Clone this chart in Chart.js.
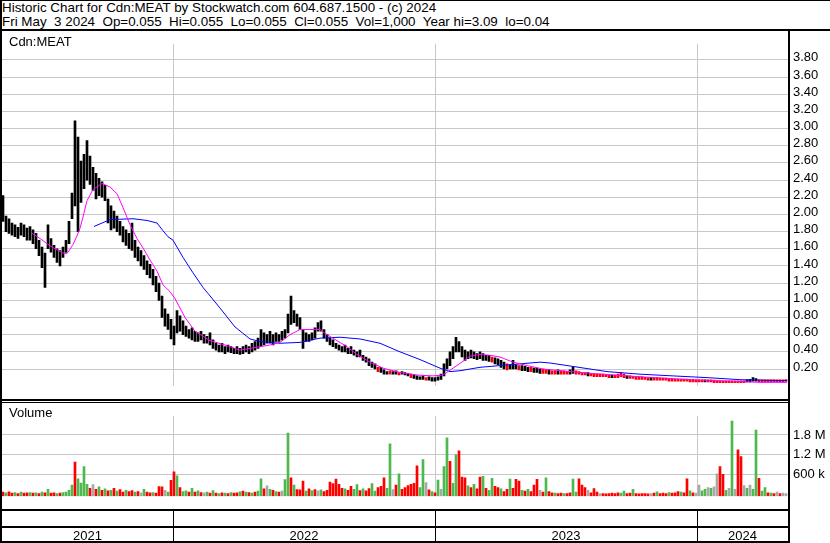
<!DOCTYPE html>
<html>
<head>
<meta charset="utf-8">
<script src="https://cdn.jsdelivr.net/npm/chart.js@4.4.0/dist/chart.umd.min.js"></script>
<style>
body { margin: 0; background: #fff; }
#wrap { position: relative; width: 830px; height: 543px; overflow: hidden; font-family: "Liberation Sans", Arial, sans-serif; color: #000; }
.t { position: absolute; white-space: pre; font-size: 13px; line-height: 15px; }
.h { position: absolute; white-space: pre; font-size: 13.4px; line-height: 15px; }
.ln { position: absolute; background: #000; }
canvas { position: absolute; left: 0; }
</style>
</head>
<body>
<div id="wrap">
<canvas id="priceChart" width="830" height="368" style="top:31px"></canvas>
<canvas id="volumeChart" width="830" height="106" style="top:403px"></canvas>
<div class="h" style="left:2px;top:0px">Historic Chart for Cdn:MEAT by Stockwatch.com 604.687.1500 - (c) 2024</div>
<div class="h" style="left:2px;top:14px">Fri May  3 2024  Op=0.055  Hi=0.055  Lo=0.055  Cl=0.055  Vol=1,000  Year hi=3.09  lo=0.04</div>
<div class="t" style="left:9px;top:34px">Cdn:MEAT</div>
<div class="t" style="left:9px;top:405px">Volume</div>
</div>
<script>
// one sample every 3 trading days, oldest first
var sampleStep = 3;

var priceHigh = [
    2.22, 1.98, 1.95, 1.90, 1.88, 1.85, 1.90, 1.88, 1.84, 1.86,
    1.82, 1.78, 1.70, 1.62, 1.55, 1.88, 1.72, 1.64, 1.60, 1.58,
    1.62, 1.70, 1.92, 2.25, 3.09, 2.90, 2.62, 2.70, 2.86, 2.68,
    2.55, 2.48, 2.42, 2.38, 2.34, 2.18, 2.10, 2.04, 1.98, 1.92,
    1.86, 1.82, 1.78, 1.90, 1.70, 1.62, 1.58, 1.52, 1.46, 1.42,
    1.36, 1.28, 1.20, 1.05, 0.90, 0.84, 0.78, 0.70, 0.88, 0.82,
    0.76, 0.70, 0.66, 0.68, 0.64, 0.62, 0.64, 0.60, 0.58, 0.62,
    0.54, 0.50, 0.48, 0.50, 0.46, 0.48, 0.46, 0.44, 0.46, 0.44,
    0.46, 0.48, 0.46, 0.50, 0.52, 0.56, 0.66, 0.62, 0.60, 0.64,
    0.60, 0.62, 0.60, 0.64, 0.66, 0.84, 1.05, 0.88, 0.84, 0.80,
    0.66, 0.62, 0.60, 0.62, 0.68, 0.74, 0.76, 0.66, 0.60, 0.56,
    0.54, 0.50, 0.48, 0.46, 0.48, 0.44, 0.46, 0.42, 0.40, 0.42,
    0.36, 0.34, 0.32, 0.28, 0.26, 0.22, 0.22, 0.19, 0.17, 0.18,
    0.17, 0.18, 0.16, 0.17, 0.16, 0.15, 0.14, 0.13, 0.12, 0.11,
    0.12, 0.10, 0.11, 0.10, 0.10, 0.11, 0.14, 0.26, 0.32, 0.40,
    0.46, 0.57, 0.52, 0.46, 0.42, 0.40, 0.42, 0.40, 0.38, 0.40,
    0.38, 0.36, 0.36, 0.34, 0.33, 0.32, 0.30, 0.28, 0.26, 0.25,
    0.30, 0.25, 0.24, 0.24, 0.23, 0.22, 0.22, 0.21, 0.21, 0.20,
    0.20, 0.19, 0.19, 0.18, 0.18, 0.19, 0.18, 0.18, 0.17, 0.19,
    0.22, 0.18, 0.17, 0.16, 0.16, 0.16, 0.15, 0.14, 0.14, 0.14,
    0.14, 0.13, 0.13, 0.13, 0.13, 0.14, 0.16, 0.14, 0.12, 0.12,
    0.11, 0.11, 0.11, 0.11, 0.10, 0.10, 0.10, 0.10, 0.10, 0.09,
    0.09, 0.09, 0.09, 0.09, 0.08, 0.08, 0.08, 0.08, 0.08, 0.08,
    0.08, 0.07, 0.07, 0.07, 0.07, 0.07, 0.07, 0.07, 0.06, 0.06,
    0.06, 0.06, 0.06, 0.06, 0.06, 0.06, 0.06, 0.06, 0.07, 0.08,
    0.10, 0.09, 0.07, 0.07, 0.06, 0.06, 0.06, 0.06, 0.06, 0.06,
    0.06, 0.055
];
var priceLow = [
    1.92, 1.80, 1.78, 1.76, 1.74, 1.72, 1.76, 1.74, 1.70, 1.70,
    1.66, 1.60, 1.52, 1.38, 1.15, 1.60, 1.56, 1.50, 1.44, 1.40,
    1.50, 1.55, 1.66, 1.95, 2.10, 1.80, 2.14, 2.30, 2.40, 2.35,
    2.28, 2.18, 2.22, 2.20, 2.16, 1.90, 1.82, 1.84, 1.80, 1.76,
    1.68, 1.64, 1.60, 1.58, 1.50, 1.46, 1.40, 1.36, 1.30, 1.26,
    1.18, 1.10, 1.00, 0.80, 0.70, 0.66, 0.55, 0.48, 0.62, 0.64,
    0.60, 0.58, 0.56, 0.54, 0.52, 0.52, 0.54, 0.50, 0.50, 0.48,
    0.44, 0.42, 0.40, 0.40, 0.38, 0.40, 0.39, 0.38, 0.38, 0.37,
    0.38, 0.40, 0.38, 0.40, 0.42, 0.44, 0.46, 0.48, 0.50, 0.50,
    0.48, 0.52, 0.52, 0.54, 0.56, 0.62, 0.72, 0.74, 0.70, 0.66,
    0.44, 0.52, 0.52, 0.54, 0.56, 0.64, 0.64, 0.56, 0.52, 0.48,
    0.46, 0.44, 0.42, 0.40, 0.40, 0.38, 0.38, 0.36, 0.34, 0.34,
    0.30, 0.28, 0.24, 0.22, 0.20, 0.17, 0.16, 0.14, 0.14, 0.14,
    0.14, 0.14, 0.13, 0.14, 0.13, 0.12, 0.10, 0.09, 0.08, 0.08,
    0.08, 0.07, 0.07, 0.06, 0.06, 0.07, 0.08, 0.12, 0.20, 0.24,
    0.32, 0.40, 0.40, 0.34, 0.30, 0.32, 0.33, 0.32, 0.31, 0.32,
    0.30, 0.30, 0.29, 0.28, 0.26, 0.25, 0.22, 0.20, 0.19, 0.20,
    0.20, 0.20, 0.19, 0.18, 0.18, 0.17, 0.17, 0.16, 0.16, 0.15,
    0.15, 0.15, 0.14, 0.14, 0.14, 0.14, 0.14, 0.14, 0.14, 0.14,
    0.15, 0.14, 0.14, 0.13, 0.13, 0.12, 0.12, 0.11, 0.11, 0.11,
    0.11, 0.11, 0.10, 0.10, 0.10, 0.10, 0.11, 0.10, 0.09, 0.09,
    0.09, 0.08, 0.08, 0.08, 0.08, 0.07, 0.07, 0.07, 0.07, 0.07,
    0.07, 0.07, 0.06, 0.06, 0.06, 0.06, 0.06, 0.06, 0.06, 0.05,
    0.05, 0.05, 0.05, 0.05, 0.05, 0.05, 0.05, 0.04, 0.04, 0.04,
    0.04, 0.04, 0.04, 0.04, 0.04, 0.04, 0.04, 0.04, 0.05, 0.05,
    0.06, 0.06, 0.05, 0.05, 0.05, 0.05, 0.05, 0.05, 0.05, 0.05,
    0.05, 0.055
];
// k = black bar, r = red bar
var priceTone =
    'kkkkkkkkkk' + 'kkkkkkkkkk' + 'kkkkkkkkkk' + 'kkkkkkkkkk' + 'kkkkkkkkkk' +
    'kkkkkkkkkk' + 'kkkkkkkkkk' + 'kkkkkkkkkk' + 'kkkkkkkkkk' + 'kkkkkkkkkk' +
    'kkkkkkkkkk' + 'kkkkkkkkkk' + 'kkkkkrkkkr' + 'kkrkkkrkkk' + 'krkkkkkkkk' +
    'kkkkkkkkkk' + 'kkkrkkkkrk' + 'kkrkkkrkkk' + 'rrkrrkrrrk' + 'krrrrkrrrr' +
    'rrrkrrrrkr' + 'rrrrrrkrrr' + 'rrrrrrrrrr' + 'rrrrkrrrrr' + 'rrrrrrrrkk' +
    'kkrrrrrrrr' + 'rr';

var fastDays = [30, 38, 45, 53, 61, 66, 71, 75, 78, 81, 85, 91, 100, 108, 115, 121, 128, 135, 141, 148,
    155, 161, 168, 173, 183, 193, 208, 223, 238, 253, 268, 278, 288, 298, 308, 318, 325, 335, 345, 355,
    368, 381, 398, 415, 431, 441, 451, 461, 468, 478, 488, 498, 511, 525, 541, 558, 588, 638, 688, 738,
    758, 785];
var fastMA = [1.78, 1.72, 1.66, 1.60, 1.55, 1.56, 1.65, 1.75, 1.84, 1.97, 2.16, 2.29, 2.36, 2.32, 2.24, 2.08, 1.88, 1.72, 1.61, 1.47,
    1.34, 1.18, 1.10, 1.02, 0.80, 0.64, 0.53, 0.48, 0.42, 0.45, 0.48, 0.51, 0.60, 0.66, 0.66, 0.66, 0.60, 0.53, 0.46, 0.37,
    0.28, 0.21, 0.16, 0.13, 0.12, 0.13, 0.21, 0.29, 0.35, 0.37, 0.36, 0.34, 0.28, 0.24, 0.20, 0.18, 0.15, 0.11, 0.076, 0.054,
    0.045, 0.045];

var slowDays = [92, 108, 131, 145, 155, 161, 166, 171, 181, 191, 201, 206, 218, 233, 248, 258, 278, 298, 318, 338,
    358, 378, 398, 418, 438, 448, 458, 478, 498, 518, 538, 548, 571, 605, 638, 671, 705, 738, 785];
var slowMA = [1.86, 1.94, 1.95, 1.93, 1.90, 1.81, 1.74, 1.70, 1.50, 1.32, 1.15, 1.08, 0.91, 0.69, 0.55, 0.52, 0.50, 0.51, 0.56, 0.57,
    0.55, 0.50, 0.40, 0.31, 0.21, 0.17, 0.18, 0.22, 0.24, 0.26, 0.28, 0.27, 0.23, 0.17, 0.14, 0.12, 0.10, 0.076, 0.065];

// volume in thousands of shares
var volume = [
    60, 40, 70, 30, 50, 20, 60, 30, 40, 50,
    30, 40, 20, 60, 40, 150, 30, 40, 20, 30,
    50, 60, 120, 280, 975, 470, 340, 840, 300, 180,
    290, 150, 220, 120, 160, 100, 120, 180, 90, 140,
    60, 120, 80, 110, 60, 80, 40, 150, 60, 40,
    50, 30, 230, 220, 120, 60, 420, 680, 560, 200,
    80, 100, 60, 180, 60, 100, 50, 40, 60, 30,
    110, 30, 20, 40, 30, 20, 50, 30, 40, 70,
    90, 60, 50, 30, 60, 90, 470, 160, 250, 150,
    120, 80, 60, 90, 440, 1860, 500, 280, 140, 130,
    400, 90, 160, 110, 140, 100, 130, 80, 120, 370,
    320, 460, 300, 180, 160, 120, 240, 150, 290, 110,
    160, 100, 170, 320, 90, 200, 240, 500, 180, 1530,
    140, 280, 620, 150, 200, 260, 300, 330, 860, 200,
    1050, 350, 130, 80, 40, 430, 150, 840, 1710, 1000,
    330, 1200, 1320, 520, 500, 250, 200, 300, 160, 520,
    540, 180, 120, 480, 240, 200, 160, 80, 150, 460,
    180, 450, 400, 120, 90, 150, 80, 280, 450, 120,
    60, 500, 80, 40, 30, 20, 30, 20, 20, 40,
    460, 60, 470, 280, 200, 120, 40, 170, 60, 20,
    20, 10, 20, 30, 20, 40, 30, 90, 20, 30,
    150, 20, 10, 20, 20, 10, 20, 30, 70, 20,
    30, 20, 50, 30, 40, 80, 60, 40, 470, 100,
    40, 30, 280, 100, 150, 200, 180, 220, 620, 840,
    600, 120, 180, 2220, 150, 1350, 1140, 260, 180, 280,
    150, 1950, 480, 90, 200, 40, 30, 20, 60, 20,
    30, 20
];
// r = down day, g = up day, x = unchanged
var volumeTone =
    'rgrrgrgrrg' + 'rgrgrgrrgr' + 'ggggrggggr' + 'xrgrgrgrgr' + 'rgrrgrxgrr' +
    'grrrxgrrgr' + 'ggrgrgrxgr' + 'grgrgrgrrg' + 'rgrgrggrxg' + 'rgrxggrgrr' +
    'rgrgrxgrrr' + 'rrrrgrrggr' + 'grrggrrrgg' + 'xrgrrrrrrg' + 'gxrgrgxggr' +
    'ggrrrgrgrr' + 'grggrrgrrg' + 'rrrgrgrrrx' + 'rgrrgrrgrr' + 'ggrrrxrrrx' +
    'rrrrrrggrr' + 'grrrrrxrgr' + 'rrgrrrgrrg' + 'rxxggxgxxr' + 'rgxgxrrxgx' +
    'ggrggrgrxr' + 'xx';

var priceTicks = [0.2, 0.4, 0.6, 0.8, 1.0, 1.2, 1.4, 1.6, 1.8, 2.0, 2.2, 2.4, 2.6, 2.8, 3.0, 3.2, 3.4, 3.6, 3.8];
var volumeTicks = [600000, 1200000, 1800000];
var yearStarts = [171, 433, 695];
var yearLabels = ['2021', '2022', '2023', '2024'];
var lastDay = 786;

var fontFamily = '"Liberation Sans", Arial, sans-serif';
var gridGray = '#c8c8c8';
var toneColors = { k: '#000000', r: '#ff0000', g: '#4db84d', x: '#a8a8a8' };

function slotOf(i) { return i * sampleStep + 1; }

function timeAxis() {
    return {
        type: 'linear', min: 0, max: lastDay, offset: false,
        afterBuildTicks: function (s) { s.ticks = yearStarts.map(function (v) { return { value: v }; }); },
        afterFit: function (s) { s.height = 0; },
        ticks: { display: false },
        grid: { color: gridGray, drawTicks: false, offset: false },
        border: { display: false }
    };
}

function valueAxis(min, max, ticks, fmt, shift) {
    return {
        position: 'right', min: min, max: max,
        afterBuildTicks: function (s) { s.ticks = ticks.map(function (v) { return { value: v }; }); },
        afterFit: function (s) { s.width = 42; },
        ticks: { callback: fmt, color: '#000', padding: 5, labelOffset: shift, font: { family: fontFamily, size: 13 } },
        grid: { color: gridGray, drawTicks: false },
        border: { display: false }
    };
}

var common = {
    responsive: false, animation: false, devicePixelRatio: 1, events: [],
    layout: { padding: { left: 2, right: 0, top: 0, bottom: 0 } },
    plugins: { legend: { display: false }, tooltip: { enabled: false } }
};

new Chart(document.getElementById('priceChart').getContext('2d'), {
    type: 'bar',
    data: {
        datasets: [{
            type: 'line', order: 0,
            data: fastDays.map(function (d, i) { return { x: d, y: fastMA[i] }; }),
            borderColor: '#ff00ff', borderWidth: 1, pointRadius: 0, tension: 0
        }, {
            type: 'line', order: 0,
            data: slowDays.map(function (d, i) { return { x: d, y: slowMA[i] }; }),
            borderColor: '#0000ff', borderWidth: 1, pointRadius: 0, tension: 0
        }, {
            type: 'bar', order: 1,
            data: priceLow.map(function (lo, i) { return { x: slotOf(i), y: [lo, priceHigh[i]] }; }),
            backgroundColor: priceTone.split('').map(function (c) { return toneColors[c]; }),
            barThickness: 2, minBarLength: 2
        }]
    },
    options: Object.assign({}, common, {
        scales: {
            x: timeAxis(),
            y: valueAxis(0, 3.987, priceTicks, function (v) { return v.toFixed(2); }, -2)
        }
    })
});

new Chart(document.getElementById('volumeChart').getContext('2d'), {
    type: 'bar',
    data: {
        datasets: [{
            data: volume.map(function (v, i) { return { x: slotOf(i), y: v * 1000 }; }),
            backgroundColor: volumeTone.split('').map(function (c) { return toneColors[c]; }),
            barThickness: 2, base: -62000
        }]
    },
    options: Object.assign({}, common, {
        scales: {
            x: timeAxis(),
            y: valueAxis(-62000, 2384000, volumeTicks, function (v) {
                return v >= 1000000 ? (v / 1000000).toFixed(1) + ' M' : (v / 1000) + ' k';
            }, 0)
        }
    })
});

// frame lines and the year strip
var wrap = document.getElementById('wrap');
function rule(x, y, w, h) {
    var d = document.createElement('div');
    d.className = 'ln';
    d.style.cssText = 'left:' + x + 'px;top:' + y + 'px;width:' + w + 'px;height:' + h + 'px';
    wrap.appendChild(d);
}
rule(0, 0, 830, 1);
rule(0, 0, 2, 543);
rule(0, 29, 830, 2);
rule(788, 31, 2, 512);
rule(0, 399, 788, 2);
rule(0, 402, 788, 1);
rule(0, 509, 788, 2);
rule(0, 526, 788, 2);
rule(0, 541, 788, 2);
yearStarts.forEach(function (d) { rule(2 + d, 511, 1, 30); });

var edges = [0].concat(yearStarts, [lastDay]);
yearLabels.forEach(function (label, i) {
    var d = document.createElement('div');
    d.className = 't';
    var mid = 2 + (edges[i] + edges[i + 1]) / 2;
    d.style.cssText = 'left:' + (mid - 50) + 'px;width:100px;text-align:center;top:528px';
    d.textContent = label;
    wrap.appendChild(d);
});
</script>
</body>
</html>
